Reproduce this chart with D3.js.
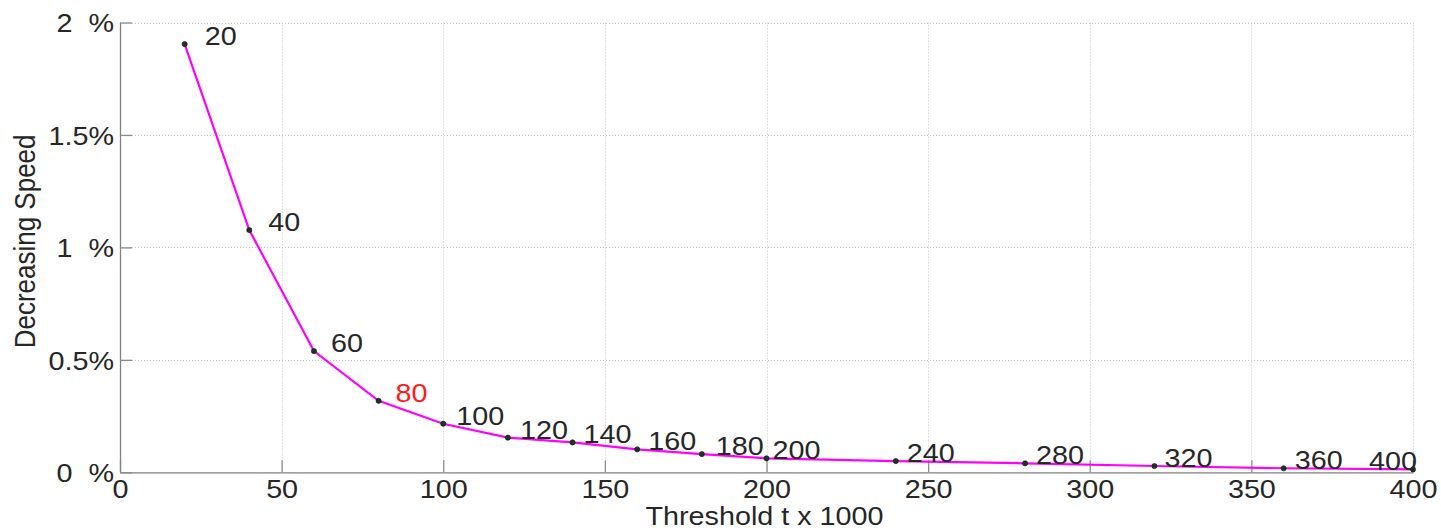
<!DOCTYPE html>
<html>
<head>
<meta charset="utf-8">
<script src="https://cdn.jsdelivr.net/npm/d3@7"></script>
<style>
  html, body { margin: 0; padding: 0; background: #fff; }
  svg { display: block; }
  text { font-family: "Liberation Sans", Arial, Helvetica, sans-serif; fill: #262626; }
  .tick text { white-space: pre; }
</style>
</head>
<body>
<svg id="chart" width="1441" height="530"></svg>
<script>
// Threshold (x1000) and the decreasing speed measured at it, in percent
const thresholds = [20, 40, 60, 80, 100, 120, 140, 160, 180, 200, 240, 280, 320, 360, 400];
const speeds = [1.904, 1.077, 0.539, 0.318, 0.216, 0.154, 0.133, 0.102, 0.081, 0.062, 0.050, 0.040, 0.028, 0.018, 0.013];
const highlightThreshold = 80;

// Axis ticks and their labels
const xTicks = [0, 50, 100, 150, 200, 250, 300, 350, 400];
const yTicks = [0, 0.5, 1, 1.5, 2];
const yTickLabels = ["0  %", "0.5%", "1  %", "1.5%", "2  %"];
const xTitle = "Threshold t x 1000";
const yTitle = "Decreasing Speed";

const svg = d3.select("#chart");
const W = 1441, H = 530;
const plot = { left: 120, right: 1413, top: 22.5, bottom: 472.3 };
const stretch = 1.15;      // the glyphs are drawn slightly wide
const fontSize = 25;

svg.append("rect").attr("width", W).attr("height", H).attr("fill", "#fff");

const x = d3.scaleLinear().domain([0, 400]).range([plot.left, plot.right]);
const y = d3.scaleLinear().domain([0, 2]).range([plot.bottom, plot.top]);

// dotted grid
const grid = svg.append("g").attr("stroke", "#c4c4c4").attr("stroke-width", 1)
  .attr("stroke-dasharray", "1,2").attr("fill", "none");
grid.selectAll("line.v").data(xTicks.filter(t => t > 0)).join("line")
  .attr("class", "v")
  .attr("x1", d => Math.round(x(d)) + 0.5).attr("x2", d => Math.round(x(d)) + 0.5)
  .attr("y1", plot.top).attr("y2", plot.bottom);
grid.selectAll("line.h").data(yTicks.filter(t => t > 0)).join("line")
  .attr("class", "h")
  .attr("y1", d => Math.round(y(d)) + 0.5).attr("y2", d => Math.round(y(d)) + 0.5)
  .attr("x1", plot.left).attr("x2", plot.right);

// axes with inward ticks
const xAxis = d3.axisBottom(x).tickValues(xTicks).tickFormat(d3.format("d"))
  .tickSizeInner(-12).tickSizeOuter(0).tickPadding(8);
const yAxis = d3.axisLeft(y).tickValues(yTicks).tickFormat((d, i) => yTickLabels[i])
  .tickSizeInner(-12).tickSizeOuter(0).tickPadding(6);

const gx = svg.append("g").attr("transform", `translate(0,${plot.bottom})`).call(xAxis);
const gy = svg.append("g").attr("transform", `translate(${plot.left},0)`).call(yAxis);

[gx, gy].forEach(g => {
  g.select(".domain").attr("stroke", "#808080").attr("stroke-width", 1.3);
  g.selectAll(".tick line").attr("stroke", "#8a8a8a").attr("stroke-width", 1.3);
  g.selectAll(".tick text").attr("font-size", fontSize).attr("fill", "#262626")
    .attr("font-family", "Liberation Sans, Arial, sans-serif");
});
gx.selectAll(".tick text").each(function () {
  const t = d3.select(this);
  const yy = +t.attr("y");
  t.attr("y", 0).attr("dy", "0.71em").attr("transform", `translate(0,${yy}) scale(${stretch},1)`);
});
gy.selectAll(".tick text").each(function () {
  const t = d3.select(this);
  const xx = +t.attr("x");
  t.attr("x", 0).attr("dy", "0.37em").attr("transform", `translate(${xx},0) scale(${stretch},1)`);
});

// curve
const pts = thresholds.map((t, i) => ({ t, v: speeds[i] }));
svg.append("path").datum(pts)
  .attr("fill", "none").attr("stroke", "#ff00ff").attr("stroke-width", 2.2)
  .attr("d", d3.line().x(d => x(d.t)).y(d => y(d.v)));

// point markers
svg.append("g").selectAll("circle").data(pts).join("circle")
  .attr("cx", d => x(d.t)).attr("cy", d => y(d.v)).attr("r", 2.6)
  .attr("fill", "#1c3326").attr("stroke", "#0e1a12").attr("stroke-width", 0.6);

// threshold labels next to each point
const labelShift = [20, 19, 17, 17, 13, 12, 11, 11, 14, 6, 11, 11, 10, 11, -44];
svg.append("g").selectAll("text").data(pts).join("text")
  .attr("transform", (d, i) => `translate(${x(d.t) + labelShift[i]},${y(d.v) + 1}) scale(${stretch},1)`)
  .attr("font-size", fontSize)
  .style("fill", d => d.t === highlightThreshold ? "#ff1a1a" : "#262626")
  .text(d => d.t);

// axis titles
svg.append("text")
  .attr("transform", `translate(${(plot.left + plot.right) / 2 - 2},525) scale(${stretch},1)`)
  .attr("text-anchor", "middle").attr("font-size", fontSize)
  .text(xTitle);
svg.append("text")
  .attr("transform", `translate(35,${(plot.top + plot.bottom) / 2 - 6}) scale(${stretch},1) rotate(-90)`)
  .attr("text-anchor", "middle").attr("font-size", 26)
  .text(yTitle);
</script>
</body>
</html>
